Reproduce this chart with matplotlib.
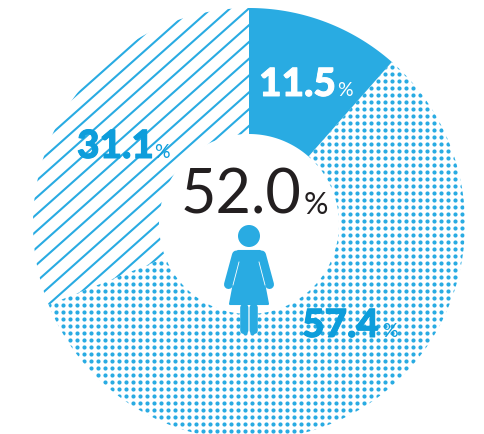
import numpy as np
import matplotlib
matplotlib.use("Agg")
import matplotlib.pyplot as plt
import matplotlib.patheffects as pe
from matplotlib.patches import Circle, Polygon, FancyBboxPatch

plt.rcParams['font.family'] = ['Lato', 'DejaVu Sans']

# Survey shares, clockwise from the top
categories = ['solid', 'dotted', 'hatched']
shares = [11.5, 57.4, 31.1]
share_labels = ['11.5', '57.4', '31.1']
headline = '52.0'

BLUE = '#29abe2'
LABEL_BLUE = '#0d9ddb'
INK = '#231f20'

fig = plt.figure(figsize=(4.84, 4.34), dpi=100)
ax = fig.add_axes([0, 0, 1, 1])
ax.set_xlim(0, 484)
ax.set_ylim(434, 0)
ax.axis('off')
ax.set_aspect('equal')

cx, cy, R, r_in = 249, 224, 216, 90


def sector_polygon(a0, a1):
    th = np.radians(np.linspace(a0, a1, 200))
    xo = cx + R * np.sin(th)
    yo = cy - R * np.cos(th)
    xi = cx + r_in * np.sin(th[::-1])
    yi = cy - r_in * np.cos(th[::-1])
    return np.column_stack([np.r_[xo, xi], np.r_[yo, yi]])


edges = np.r_[0, np.cumsum(shares)] * 3.6
ax.add_patch(Polygon(sector_polygon(edges[0], edges[1]), fc=BLUE, ec='none'))

# Dot screen for the large sector
dotted = Polygon(sector_polygon(edges[1], edges[2]), fc='none', ec='none')
ax.add_patch(dotted)
gx, gy = np.meshgrid(np.arange(0.3, 490, 7.0), np.arange(4.4, 440, 7.0))
dots = ax.scatter(gx.ravel(), gy.ravel(), s=9, color=BLUE, linewidths=0)
dots.set_clip_path(dotted)

# Diagonal rules for the remaining sector
hatched = Polygon(sector_polygon(edges[2], edges[3]), fc='none', ec='none')
ax.add_patch(hatched)
slope = 0.89
spacing = 16.8
for y0 in np.arange(92.4 - spacing * 12, 92.4 + spacing * 24, spacing):
    xs = np.array([0.0, 484.0])
    ln, = ax.plot(xs, y0 - slope * (xs - cx), color=BLUE, lw=1.5, solid_capstyle='butt')
    ln.set_clip_path(hatched)


# Percentage labels: the number, then a lighter, smaller sign
def pct(x, y, value, color, size, psize, weight='black', pgap=3, stroke=0.7):
    t = ax.text(x, y, value, color=color, fontsize=size, fontweight=weight,
                ha='left', va='baseline')
    if stroke:
        t.set_path_effects([pe.withStroke(linewidth=stroke, foreground=color)])
    fig.canvas.draw()
    bb = t.get_window_extent()
    ax.text(bb.x1 + pgap, y, '%', color=color, fontsize=psize, fontweight='normal',
            ha='left', va='baseline')


pct(259, 96, share_labels[0], 'white', 28, 14, pgap=1)
pct(77, 158, share_labels[2], LABEL_BLUE, 28, 14, pgap=0.5)
pct(302, 337, share_labels[1], LABEL_BLUE, 28, 14)
pct(181, 214, headline, INK, 44, 22, weight='normal', pgap=2, stroke=0)

# Figure icon
ax.add_patch(Circle((249, 236), 11, fc=BLUE, ec='none'))
ax.add_patch(Polygon([(238, 251), (260, 251), (260, 262), (268, 304), (230, 304), (238, 262)],
                     fc=BLUE, ec=BLUE, lw=1.5, joinstyle='round', closed=True))
for sx in (-1, 1):
    ax.plot([249 + sx * 12.5, 249 + sx * 20.5], [255, 284.5], color=BLUE, lw=6.5,
            solid_capstyle='round')
    ax.plot([249 + sx * 10, 249 + sx * 16], [262, 285], color='white', lw=0.6)
for x0 in (240.2, 249.6):
    ax.add_patch(FancyBboxPatch((x0, 304), 8.2, 30,
                                boxstyle='round,pad=0,rounding_size=4', fc=BLUE, ec='none'))

fig.savefig('out.png', dpi=100)
